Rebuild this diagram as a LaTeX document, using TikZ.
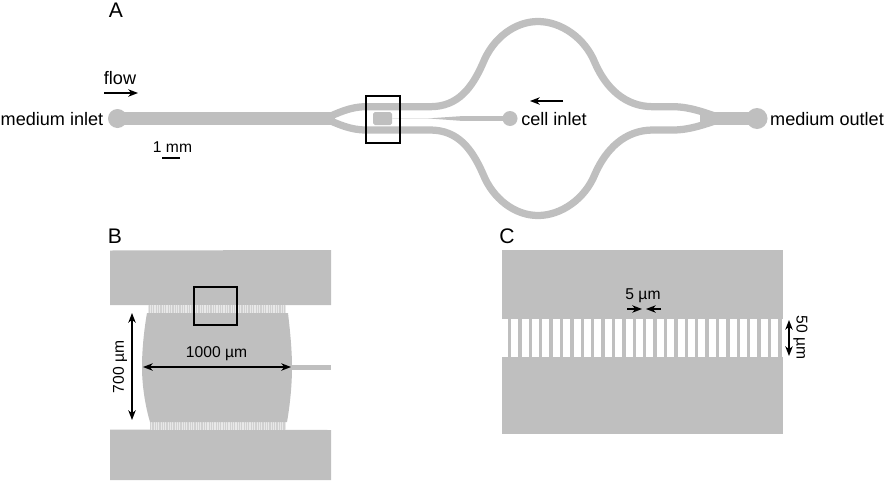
\documentclass[tikz,border=0pt]{standalone}
\usepackage{fontspec}
\setmainfont{Liberation Sans}
\usepackage{tikz}
\usetikzlibrary{arrows.meta}
\definecolor{channelgray}{RGB}{191,191,191}
\definecolor{combgray}{RGB}{232,232,232}
\definecolor{combbar}{RGB}{208,208,208}
\tikzset{
  channel/.style={draw=channelgray, line width=0.145cm},
  wall/.style={fill=channelgray},
  framebox/.style={draw=black, line width=0.9pt},
  dimarrow/.style={draw=black, line width=0.7pt, >={Stealth[length=5.5pt,width=4.2pt,inset=1.6pt]}},
  lbl/.style={font=\fontsize{10.3}{12}\selectfont, inner sep=0pt},
  lblsmall/.style={font=\fontsize{8.9}{11}\selectfont, inner sep=0pt},
  panel/.style={font=\fontsize{12}{14}\selectfont, inner sep=0pt}
}

\begin{document}
\begin{tikzpicture}[x=0.02cm, y=-0.02cm]
  \useasboundingbox (0,0) rectangle (886,484);

  % Panel A, main channels
  \fill[channelgray] (117.5,112) rectangle (335,125);
  \fill[channelgray] (117.5,118.5) circle (0.19cm);
  \fill[channelgray] (700,112) rectangle (757,125);
  \fill[channelgray] (757,118.5) circle (0.21cm);

  % upper branch
  \draw[channel] (325,118.5) .. controls (338,113) and (350,106.7) .. (366,106.7) -- (430,106.7)
    .. controls (458,106.7) and (472,88) .. (483,63)
    .. controls (493,38) and (515,21.5) .. (538,21.5)
    .. controls (561,21.5) and (585,38) .. (595,63)
    .. controls (606,88) and (625,106.7) .. (653,106.7) -- (673,106.7)
    .. controls (690,106.7) and (706,113) .. (722,118.5);
  % lower branch
  \draw[channel] (325,118.5) .. controls (338,124) and (350,130) .. (366,130) -- (430,130)
    .. controls (458,130) and (472,149) .. (483,174)
    .. controls (493,199) and (515,215.5) .. (538,215.5)
    .. controls (561,215.5) and (585,199) .. (595,174)
    .. controls (606,149) and (625,130) .. (653,130) -- (673,130)
    .. controls (690,130) and (706,124) .. (722,118.5);

  % cell chamber and inlet
  \fill[channelgray, rounded corners=1pt] (373,112) rectangle (392,125);
  \draw[combgray, line width=0.5pt] (392,118.5) -- (430,118.5);
  \fill[channelgray] (428,118.4) -- (462,116.1) -- (505,116.1) -- (505,120.9) -- (462,120.9) -- cycle;
  \fill[channelgray] (510,118.5) circle (0.15cm);
  \draw[framebox] (366,96) rectangle (400,143);

  % Panel A, labels
  \node[panel] (labelA) at (116,10) {A};
  \node[lbl] (mediumin) at (52,119.5) {medium inlet};
  \node[lbl] (mediumout) at (827,119.5) {medium outlet};
  \node[lbl] (cellin) at (554,119.5) {cell inlet};
  \node[lbl] (flowtext) at (120,78) {flow};
  \node[lblsmall] (scaletext) at (172.5,147.5) {1 mm};
  \coordinate (flowstart) at (104,93);
  \coordinate (flowend) at (138,93);
  \draw[dimarrow, ->] (flowstart) -- (flowend);
  \coordinate (cellstart) at (563,101);
  \coordinate (cellend) at (530,101);
  \draw[dimarrow, ->] (cellstart) -- (cellend);
  \draw[black, line width=1.1pt] (162,158) -- (180,158);

  % Panel B, walls
  \fill[wall] (110,250.5) -- (331,250) -- (331,305) -- (110,305) -- cycle;
  \fill[wall] (110,429.5) -- (331,430) -- (331,480) -- (110,480) -- cycle;
  \fill[combgray] (148,305) rectangle (286,313);
  \fill[combgray] (150,422) rectangle (286,430);
  \foreach \i in {0,...,57} {
    \fill[combbar] ({148.5+2.38*\i},305) rectangle ({149.7+2.38*\i},313);
    \fill[combbar] ({150+2.34*\i},422) rectangle ({151.2+2.34*\i},430);
  }
  % chamber
  \fill[channelgray] (147,313) -- (288,313)
    .. controls (290,330) and (292,350) .. (292,367)
    .. controls (292,385) and (290,405) .. (287,422)
    -- (150,422)
    .. controls (145,405) and (142,385) .. (142,367)
    .. controls (142,350) and (144,330) .. (147,313) -- cycle;
  \fill[channelgray] (291,365) rectangle (331,369.5);
  \draw[framebox] (194,287) rectangle (237,325);

  % Panel B, labels
  \node[panel] (labelB) at (115,236) {B};
  \node[lblsmall] (width) at (216.5,354) {1000 µm};
  \node[lblsmall, rotate=90] (height) at (120,367) {700 µm};
  \coordinate (widthL) at (143,367);
  \coordinate (widthR) at (291,367);
  \draw[dimarrow, <->] (widthL) -- (widthR);
  \coordinate (heightT) at (132,313);
  \coordinate (heightB) at (132,420);
  \draw[dimarrow, <->] (heightT) -- (heightB);

  % Panel C, walls and gaps
  \fill[wall] (502,250) rectangle (783,319);
  \fill[wall] (502,357) rectangle (783,434);
  \foreach \i in {0,...,26} {
    \fill[channelgray] ({507.7+10.4*\i},318) rectangle ({511.1+10.4*\i},358);
  }

  % Panel C, labels
  \node[panel] (labelC) at (507,236) {C};
  \node[lblsmall] (gap) at (643,296) {5 µm};
  \node[lblsmall, rotate=-90] (depth) at (800.5,337.5) {50 µm};
  \coordinate (gapL) at (627,309);
  \coordinate (gapLe) at (642,309);
  \coordinate (gapR) at (661,309);
  \coordinate (gapRe) at (646,309);
  \draw[dimarrow, ->] (gapL) -- (gapLe);
  \draw[dimarrow, ->] (gapR) -- (gapRe);
  \coordinate (depthT) at (789,320);
  \coordinate (depthB) at (789,356);
  \draw[dimarrow, <->] (depthT) -- (depthB);
\end{tikzpicture}
\end{document}
